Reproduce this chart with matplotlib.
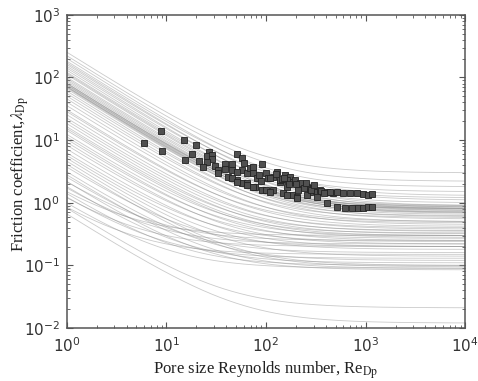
import numpy as np
import matplotlib
matplotlib.use('Agg')
import matplotlib.pyplot as plt

plt.rcParams['mathtext.fontset'] = 'custom'
plt.rcParams['mathtext.rm'] = 'Liberation Sans'
plt.rcParams['mathtext.it'] = 'Liberation Sans:italic'

# correlation curves: lambda = A/Re + B  (A ~ value at Re=1, B ~ plateau)
A = [250, 220, 200, 180, 170, 160, 150, 140, 130, 120, 115, 110, 100, 95, 90,
     85, 80, 80, 78, 75, 75, 72, 70, 70, 68, 65, 60, 55, 50, 45, 40, 35, 30,
     28, 25, 22, 20, 18, 16, 15, 14, 12, 11, 10, 9, 8, 7, 6, 5.5, 5, 4.5, 4,
     3.5, 3, 2.7, 2.4, 2.1, 1.9, 1.7, 1.5, 1.3, 1.2, 1.1, 1.0, 0.9, 0.8, 0.7, 0.65]
B = [3.0, 2.2, 1.3, 1.8, 1.1, 1.5, 0.9, 1.2, 0.85, 1.0, 0.8, 0.75, 0.9, 0.82, 0.7,
     0.78, 0.85, 0.72, 0.8, 0.88, 0.68, 0.75, 0.8, 0.65, 0.6, 0.7, 0.55, 0.62, 0.5,
     0.58, 0.45, 0.5, 0.42, 0.48, 0.38, 0.4, 0.35, 0.32, 0.36, 0.3, 0.28, 0.33, 0.25,
     0.3, 0.22, 0.27, 0.2, 0.24, 0.18, 0.14, 0.1, 0.095, 0.2, 0.12, 0.09, 0.16, 0.085,
     0.25, 0.11, 0.22, 0.1, 0.3, 0.13, 0.2, 0.09, 0.021, 0.15, 0.012]

# experimental points (Re_Dp, lambda_Dp)
re_exp = [5.9, 8.8, 9.0, 15.0, 20, 18, 15.3, 26.7, 25.3, 29, 21.2, 29, 25.3, 23.3,
          30.7, 33, 33, 38.3, 38.3, 46, 51, 46, 41.5, 51, 58, 60, 58, 65, 58, 65,
          69, 74, 74, 77, 92, 82, 99, 92, 105, 117, 117, 129, 138, 155, 164, 174,
          184, 184, 204, 230, 260, 276, 296, 326, 51, 110, 138, 164, 195, 219, 347,
          408, 468, 46, 51, 65, 74, 99, 110, 148, 164, 204, 260, 326, 408, 436,
          518, 592, 697, 817, 943, 1059, 1170, 518, 620, 735, 836, 943, 1059, 1170,
          125, 145, 170, 200, 240, 280, 300, 360, 380, 250, 210, 90, 85, 150]
lam_exp = [9.0, 14.0, 6.7, 10.1, 8.4, 6.0, 4.8, 6.5, 5.6, 5.8, 4.7, 5.0, 4.5, 3.7,
           3.9, 3.3, 3.0, 4.2, 3.5, 4.2, 6.0, 3.3, 2.6, 2.3, 5.2, 4.3, 3.3, 3.0, 2.07,
           2.07, 3.6, 3.7, 3.0, 1.79, 4.2, 2.5, 3.0, 1.6, 2.5, 2.6, 1.6, 3.1, 2.15,
           2.8, 1.79, 2.6, 2.15, 1.33, 1.24, 1.92, 1.79, 1.49, 1.72, 1.49, 3.1, 2.5,
           2.3, 2.3, 2.3, 2.07, 1.6, 1.49, 1.43, 2.5, 2.15, 1.92, 1.79, 1.6, 1.49,
           1.43, 1.33, 1.19, 1.33, 1.24, 1.0, 1.49, 1.49, 1.43, 1.43, 1.43, 1.38,
           1.33, 1.38, 0.86, 0.83, 0.83, 0.83, 0.83, 0.86, 0.86,
           2.9, 2.4, 2.0, 2.0, 1.7, 1.6, 1.9, 1.55, 1.45, 2.1, 1.6, 2.2, 2.8, 2.5]

re = np.logspace(0, 4, 300)

fig = plt.figure(figsize=(4.78, 3.81), dpi=100)
ax = fig.add_axes([0.140, 0.139, 0.833, 0.822])

for a, b in zip(A, B):
    ax.plot(re, a / re + b, color='#8a8a8a', lw=0.6, alpha=0.45)

ax.plot(re_exp, lam_exp, 's', ms=4.4, mfc='#505050', mec='#222222', mew=0.6)

ax.set_xscale('log')
ax.set_yscale('log')
ax.set_xlim(1, 1e4)
ax.set_ylim(1e-2, 1e3)

for s in ax.spines.values():
    s.set_color('#555555')
    s.set_linewidth(1.1)
ax.tick_params(which='both', direction='in', top=True, right=True, colors='#555555',
               labelcolor='#333333', labelsize=11)
ax.tick_params(which='major', length=4)
ax.tick_params(which='minor', length=2.5)
ax.tick_params(axis='x', which='major', pad=6)
ax.tick_params(axis='y', which='major', pad=5)

ax.set_xlabel(r'Pore size Reynolds number, Re$_{\rm Dp}$', family='Liberation Serif',
              fontsize=12, color='#222222', math_fontfamily='stix')
ax.set_ylabel(r'Friction coefficient,$\lambda_{\rm Dp}$', family='Liberation Serif',
              fontsize=12, color='#222222', math_fontfamily='stix')
ax.yaxis.set_label_coords(-0.09, 0.49)
ax.xaxis.set_label_coords(0.5, -0.1)

fig.savefig('out.png', dpi=100)
